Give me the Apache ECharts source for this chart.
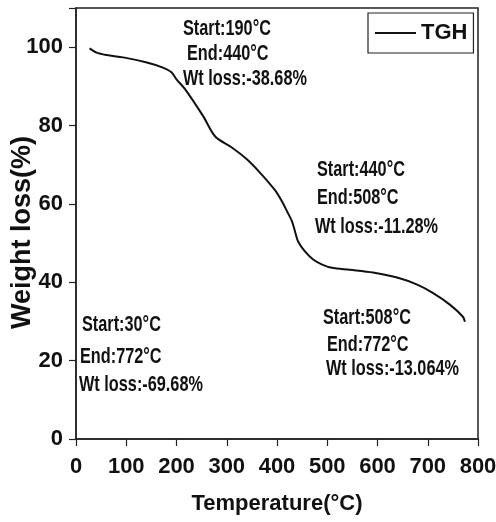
<!DOCTYPE html>
<html>
<head>
<meta charset="utf-8">
<script src="https://cdn.jsdelivr.net/npm/echarts@6/dist/echarts.min.js"></script>
<style>
html,body{margin:0;padding:0;background:#fff;}
#chart{width:496px;height:522px;}
</style>
</head>
<body>
<div id="chart"></div>
<script>
const temperature = [27, 41, 61, 94, 141, 173, 190, 200, 217, 253, 277, 310, 340, 366, 396, 410, 420, 430, 436, 442, 456, 472, 490, 509, 545, 591, 639, 679, 710, 744, 770, 774];
const weight = [99.7, 98.6, 98.0, 97.4, 96.1, 94.8, 93.6, 91.8, 89.3, 82.4, 77.2, 74.4, 71.4, 68.0, 63.5, 60.6, 58.1, 55.5, 52.9, 50.4, 47.8, 45.8, 44.5, 43.7, 43.2, 42.5, 41.2, 39.4, 37.3, 34.3, 31.2, 29.9];
const seriesName = 'TGH';
const xTitle = 'Temperature(°C)';
const yTitle = 'Weight loss(%)';
const notes = [
  ['Start:190°C', 'End:440°C', 'Wt loss:-38.68%'],
  ['Start:440°C', 'End:508°C', 'Wt loss:-11.28%'],
  ['Start:30°C', 'End:772°C', 'Wt loss:-69.68%'],
  ['Start:508°C', 'End:772°C', 'Wt loss:-13.064%']
];

const FONT = "'Liberation Sans', Arial, sans-serif";

const chart = echarts.init(document.getElementById('chart'));

// left x and vertical centre of each annotation line (layout only)
const notePos = [
  [[183, 29], [187, 54], [183, 79]],
  [[317, 170], [317, 198], [315, 227]],
  [[82, 325], [80, 357], [79, 385]],
  [[323, 318], [327, 345], [326, 369]]
];
const graphics = [];
notes.forEach((blk, i) => {
  blk.forEach((t, j) => {
    graphics.push({
      type: 'text', x: notePos[i][j][0], y: notePos[i][j][1],
      scaleX: 0.74, scaleY: 1, originX: 0, originY: 0,
      style: { text: t, font: "bold 22px " + FONT, fill: '#111', align: 'left', verticalAlign: 'middle' }
    });
  });
});

chart.setOption({
  animation: false,
  backgroundColor: '#fff',
  grid: {
    left: 76, right: 18, top: 8, bottom: 83, containLabel: false, outerBoundsMode: 'none',
    show: true, borderColor: '#222', borderWidth: 1.5
  },
  legend: {
    data: [seriesName], left: 368, top: 13, orient: 'horizontal',
    icon: 'rect', itemWidth: 41, itemHeight: 2,
    borderColor: '#222', borderWidth: 1.2, borderRadius: 0,
    padding: [9, 6, 9, 7], itemGap: 6,
    textStyle: { fontFamily: FONT, fontWeight: 'bold', fontSize: 22, color: '#111' }
  },
  xAxis: {
    type: 'value', min: 0, max: 800, interval: 100,
    name: xTitle, nameLocation: 'middle', nameGap: 54, nameMoveOverlap: false,
    nameTextStyle: { fontFamily: FONT, fontWeight: 'bold', fontSize: 22, color: '#111' },
    axisLine: { show: true, lineStyle: { color: '#222', width: 1.5 } },
    axisTick: { show: true, inside: false, length: 7, lineStyle: { color: '#222', width: 1.2 } },
    axisLabel: { fontFamily: FONT, fontWeight: 'bold', fontSize: 22, color: '#111', margin: 17 },
    splitLine: { show: false }
  },
  yAxis: {
    type: 'value', min: 0, max: 110, interval: 20,
    name: yTitle, nameLocation: 'middle', nameGap: 40, nameMoveOverlap: false,
    nameTextStyle: { fontFamily: FONT, fontWeight: 'bold', fontSize: 27, color: '#111', padding: [0, 18, 0, 0] },
    axisLine: { show: true, lineStyle: { color: '#222', width: 1.5 } },
    axisTick: { show: true, inside: false, length: 7, lineStyle: { color: '#222', width: 1.2 } },
    axisLabel: {
      fontFamily: FONT, fontWeight: 'bold', fontSize: 22, color: '#111', margin: 13,
      formatter: v => (v % 20 === 0 ? String(v) : '')
    },
    splitLine: { show: false }
  },
  series: [{
    name: seriesName, type: 'line', symbol: 'none', smooth: 0.3,
    lineStyle: { color: '#111', width: 2 },
    itemStyle: { color: '#111' },
    data: temperature.map((t, i) => [t, weight[i]])
  }],
  graphic: graphics
});
</script>
</body>
</html>
